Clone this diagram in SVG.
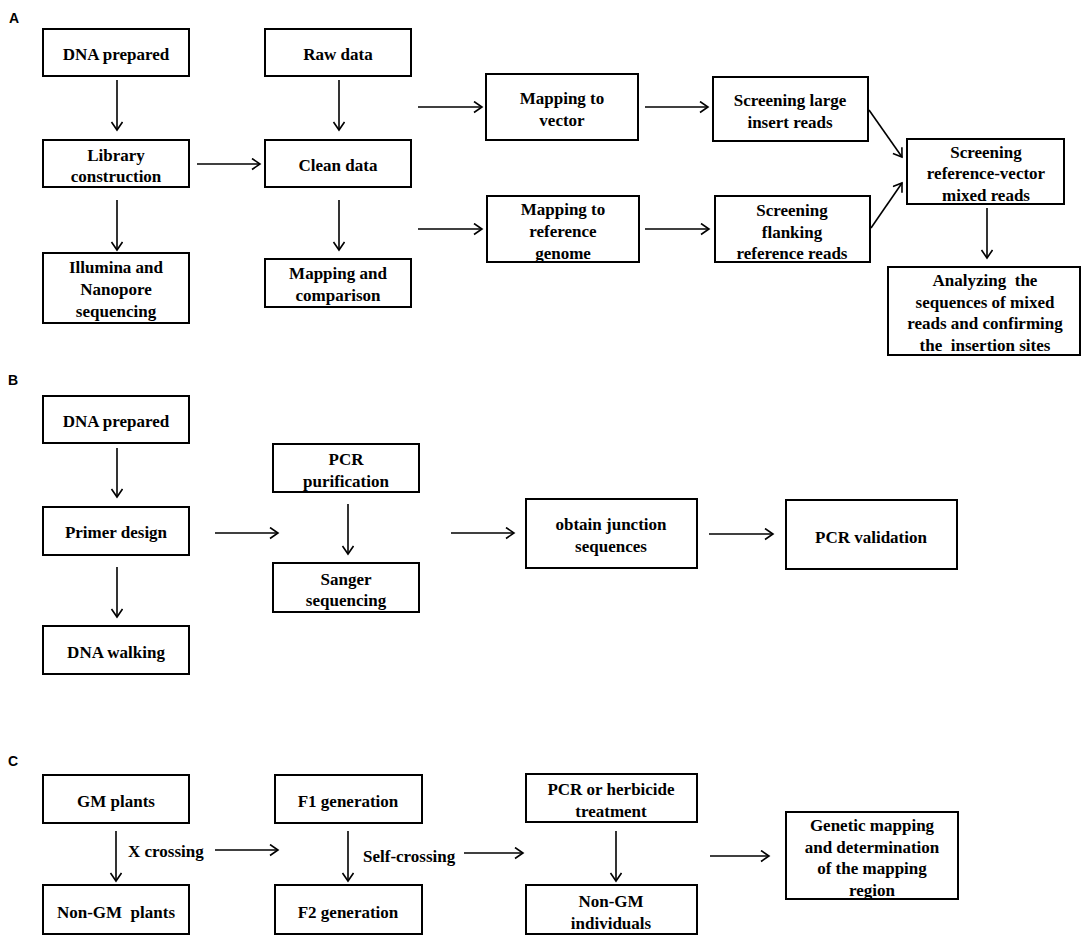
<svg xmlns="http://www.w3.org/2000/svg" width="1084" height="937" viewBox="0 0 1084 937">
<style>
.box{fill:#fff;stroke:#000;stroke-width:2}
.t{font-family:'Liberation Serif',Tinos,'Times New Roman','DejaVu Serif Condensed','DejaVu Serif',serif;font-weight:bold;font-size:17px;text-anchor:middle;fill:#000;white-space:pre}
.tl{font-family:'Liberation Serif',Tinos,'Times New Roman','DejaVu Serif Condensed','DejaVu Serif',serif;font-weight:bold;font-size:17px;fill:#000;white-space:pre}
.lab{font-family:'Liberation Sans',Arial,sans-serif;font-weight:bold;font-size:14px;fill:#000}
.c{fill:none;stroke:#000;stroke-width:1.6;marker-end:url(#ah)}
</style>
<defs>
<marker id="ah" markerUnits="userSpaceOnUse" markerWidth="12" markerHeight="14" refX="9" refY="6" orient="auto">
<path d="M1,0.5 L9,6 L1,11.5" fill="none" stroke="#000" stroke-width="1.6"/>
</marker>
</defs>
<rect width="1084" height="937" fill="#fff"/>
<text class="lab" x="9" y="23">A</text>
<text class="lab" x="8" y="385">B</text>
<text class="lab" x="8" y="766">C</text>

<g id="connectors">
<line class="c" x1="117" y1="80" x2="117" y2="130"/>
<line class="c" x1="339" y1="80" x2="339" y2="130"/>
<line class="c" x1="197" y1="164" x2="260" y2="164"/>
<line class="c" x1="117" y1="200" x2="117" y2="250"/>
<line class="c" x1="339" y1="200" x2="339" y2="250"/>
<line class="c" x1="418" y1="107" x2="482" y2="107"/>
<line class="c" x1="645" y1="107" x2="708" y2="107"/>
<line class="c" x1="418" y1="229" x2="482" y2="229"/>
<line class="c" x1="645" y1="229" x2="709" y2="229"/>
<line class="c" x1="869" y1="110" x2="902" y2="157"/>
<line class="c" x1="871" y1="228" x2="902" y2="183"/>
<line class="c" x1="987" y1="208" x2="987" y2="258"/>
<line class="c" x1="117" y1="448" x2="117" y2="497"/>
<line class="c" x1="117" y1="567" x2="117" y2="617"/>
<line class="c" x1="215" y1="533" x2="278" y2="533"/>
<line class="c" x1="348" y1="504" x2="348" y2="554"/>
<line class="c" x1="451" y1="533" x2="514" y2="533"/>
<line class="c" x1="709" y1="534" x2="773" y2="534"/>
<line class="c" x1="116" y1="831" x2="116" y2="881"/>
<line class="c" x1="215" y1="850" x2="278" y2="850"/>
<line class="c" x1="348" y1="831" x2="348" y2="881"/>
<line class="c" x1="464" y1="853" x2="523" y2="853"/>
<line class="c" x1="616" y1="831" x2="616" y2="881"/>
<line class="c" x1="710" y1="856" x2="769" y2="856"/>
<text class="tl" x="128" y="857">X crossing</text>
<text class="tl" x="363" y="862">Self-crossing</text>
</g>

<g id="a-dna"><rect class="box" x="43" y="29" width="146" height="47"/><text class="t" x="116" y="60">DNA prepared</text></g>
<g id="a-raw"><rect class="box" x="265" y="29" width="146" height="47"/><text class="t" x="338" y="60">Raw data</text></g>
<g id="a-lib"><rect class="box" x="43" y="140" width="146" height="47"/><text class="t" x="116" y="161">Library</text><text class="t" x="116" y="182">construction</text></g>
<g id="a-clean"><rect class="box" x="265" y="140" width="146" height="47"/><text class="t" x="338" y="171">Clean data</text></g>
<g id="a-illumina"><rect class="box" x="43" y="253" width="146" height="70"/><text class="t" x="116" y="273">Illumina and</text><text class="t" x="116" y="295">Nanopore</text><text class="t" x="116" y="317">sequencing</text></g>
<g id="a-mapcomp"><rect class="box" x="265" y="259" width="146" height="48"/><text class="t" x="338" y="279">Mapping and</text><text class="t" x="338" y="301">comparison</text></g>
<g id="a-mapvec"><rect class="box" x="486" y="74" width="152" height="66"/><text class="t" x="562" y="104">Mapping to</text><text class="t" x="562" y="126">vector</text></g>
<g id="a-mapref"><rect class="box" x="487" y="196" width="152" height="66"/><text class="t" x="563" y="215">Mapping to</text><text class="t" x="563" y="237">reference</text><text class="t" x="563" y="259">genome</text></g>
<g id="a-large"><rect class="box" x="713" y="77" width="155" height="64"/><text class="t" x="790" y="106">Screening large</text><text class="t" x="790" y="128">insert reads</text></g>
<g id="a-flank"><rect class="box" x="715" y="196" width="155" height="66"/><text class="t" x="792" y="216">Screening</text><text class="t" x="792" y="238">flanking</text><text class="t" x="792" y="259">reference reads</text></g>
<g id="a-mixed"><rect class="box" x="907" y="139" width="157" height="65"/><text class="t" x="986" y="158">Screening</text><text class="t" x="986" y="179">reference-vector</text><text class="t" x="986" y="201">mixed reads</text></g>
<g id="a-analyze"><rect class="box" x="888" y="267" width="192" height="88"/><text class="t" x="985" y="286">Analyzing  the</text><text class="t" x="985" y="308">sequences of mixed</text><text class="t" x="985" y="329">reads and confirming</text><text class="t" x="985" y="351">the  insertion sites</text></g>

<g id="b-dna"><rect class="box" x="43" y="396" width="146" height="47"/><text class="t" x="116" y="427">DNA prepared</text></g>
<g id="b-primer"><rect class="box" x="43" y="507" width="146" height="48"/><text class="t" x="116" y="538">Primer design</text></g>
<g id="b-walk"><rect class="box" x="43" y="626" width="146" height="48"/><text class="t" x="116" y="658">DNA walking</text></g>
<g id="b-pcrpur"><rect class="box" x="273" y="444" width="146" height="48"/><text class="t" x="346" y="465">PCR</text><text class="t" x="346" y="487">purification</text></g>
<g id="b-sanger"><rect class="box" x="273" y="563" width="146" height="49"/><text class="t" x="346" y="585">Sanger</text><text class="t" x="346" y="606">sequencing</text></g>
<g id="b-junction"><rect class="box" x="526" y="499" width="171" height="69"/><text class="t" x="611" y="530">obtain junction</text><text class="t" x="611" y="552">sequences</text></g>
<g id="b-valid"><rect class="box" x="786" y="500" width="171" height="69"/><text class="t" x="871" y="543">PCR validation</text></g>

<g id="c-gm"><rect class="box" x="43" y="775" width="146" height="48"/><text class="t" x="116" y="807">GM plants</text></g>
<g id="c-nongm"><rect class="box" x="43" y="885" width="146" height="49"/><text class="t" x="116" y="918">Non-GM  plants</text></g>
<g id="c-f1"><rect class="box" x="275" y="775" width="147" height="48"/><text class="t" x="348" y="807">F1 generation</text></g>
<g id="c-f2"><rect class="box" x="275" y="885" width="147" height="49"/><text class="t" x="348" y="918">F2 generation</text></g>
<g id="c-pcr"><rect class="box" x="526" y="774" width="171" height="48"/><text class="t" x="611" y="795">PCR or herbicide</text><text class="t" x="611" y="817">treatment</text></g>
<g id="c-indiv"><rect class="box" x="526" y="885" width="171" height="49"/><text class="t" x="611" y="907">Non-GM</text><text class="t" x="611" y="929">individuals</text></g>
<g id="c-genetic"><rect class="box" x="786" y="812" width="172" height="87"/><text class="t" x="872" y="831">Genetic mapping</text><text class="t" x="872" y="853">and determination</text><text class="t" x="872" y="874">of the mapping</text><text class="t" x="872" y="896">region</text></g>
</svg>
